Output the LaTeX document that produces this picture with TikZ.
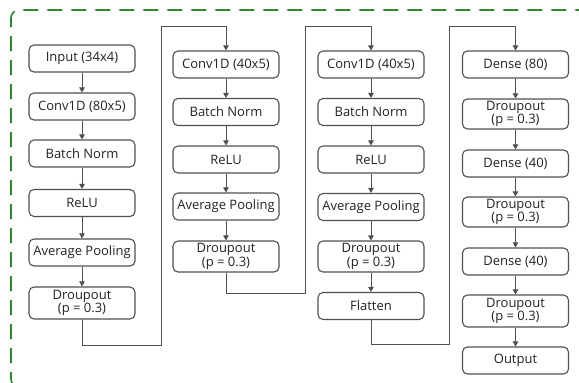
\documentclass[tikz,border=0pt]{standalone}
\usepackage{fontspec}
\setmainfont{Open Sans}
\usetikzlibrary{arrows.meta}
\definecolor{frameGreen}{RGB}{40,140,40}
\definecolor{lineGray}{RGB}{80,80,80}
\definecolor{textGray}{RGB}{35,35,35}
\tikzset{
  layer/.style={draw=lineGray, line width=1.1pt, rounded corners=5pt, fill=white,
    minimum width=106pt, minimum height=27pt, inner sep=1pt, align=center,
    text=textGray, font=\fontsize{13}{13.5}\selectfont},
  droplayer/.style={layer, minimum height=31pt},
  flow/.style={draw=lineGray, line width=1pt, -{Triangle[length=5pt,width=5.5pt]}},
}
\begin{document}
\begin{tikzpicture}[x=1pt, y=-1pt]
  \clip (0,0) rectangle (579,383);
  \useasboundingbox (0,0) rectangle (579,383);
  % outer frame
  \draw[frameGreen, line width=1.6pt, dash pattern=on 15pt off 9pt, dash phase=6pt, rounded corners=8pt]
    (11,10) rectangle (590,387);

  % column 1
  \node[layer] (in) at (82,58.5) {Input (34x4)};
  \node[layer] (c1) at (82,106.5) {Conv1D (80x5)};
  \node[layer] (b1) at (82,153.5) {Batch Norm};
  \node[layer] (r1) at (82,203) {ReLU};
  \node[layer] (p1) at (82,252.5) {Average Pooling};
  \node[droplayer, minimum height=32pt] (d1) at (82,303) {Droupout\\(p = 0.3)};

  % column 2
  \node[layer] (c2) at (226,64.5) {Conv1D (40x5)};
  \node[layer] (b2) at (226,112) {Batch Norm};
  \node[layer] (r2) at (226,159.5) {ReLU};
  \node[layer] (p2) at (226,206.5) {Average Pooling};
  \node[droplayer] (d2) at (226,256.5) {Droupout\\(p = 0.3)};

  % column 3
  \node[layer] (c3) at (371,64.5) {Conv1D (40x5)};
  \node[layer] (b3) at (371,112) {Batch Norm};
  \node[layer] (r3) at (371,159.5) {ReLU};
  \node[layer] (p3) at (371,207) {Average Pooling};
  \node[droplayer] (d3) at (371,256.5) {Droupout\\(p = 0.3)};
  \node[layer] (fl) at (371,306) {Flatten};

  % column 4
  \node[layer] (e1) at (515.5,64.5) {Dense (80)};
  \node[droplayer, minimum height=30pt] (f1) at (515.5,114) {Droupout\\(p = 0.3)};
  \node[layer] (e2) at (515.5,163.5) {Dense (40)};
  \node[droplayer, minimum height=30pt] (f2) at (515.5,212) {Droupout\\(p = 0.3)};
  \node[layer] (e3) at (515.5,261.5) {Dense (40)};
  \node[droplayer, minimum height=32pt] (f3) at (515.5,311) {Droupout\\(p = 0.3)};
  \node[layer] (out) at (515.5,360.5) {Output};

  % links inside each column
  \foreach \a/\b in {in/c1, c1/b1, b1/r1, r1/p1, p1/d1,
                     c2/b2, b2/r2, r2/p2, p2/d2,
                     c3/b3, b3/r3, r3/p3, p3/d3, d3/fl,
                     e1/f1, f1/e2, e2/f2, f2/e3, e3/f3, f3/out}
    \draw[flow] (\a) -- (\b);

  % links between columns
  \coordinate (k1a) at (161,345);
  \coordinate (k1b) at (161,26);
  \coordinate (k2a) at (305,293);
  \coordinate (k2b) at (305,26);
  \coordinate (k3a) at (449,344);
  \coordinate (k3b) at (449,26);
  \draw[flow] (d1.south) |- (k1a) -- (k1b) -| (c2.north);
  \draw[flow] (d2.south) |- (k2a) -- (k2b) -| (c3.north);
  \draw[flow] (fl.south) |- (k3a) -- (k3b) -| (e1.north);
\end{tikzpicture}
\end{document}
